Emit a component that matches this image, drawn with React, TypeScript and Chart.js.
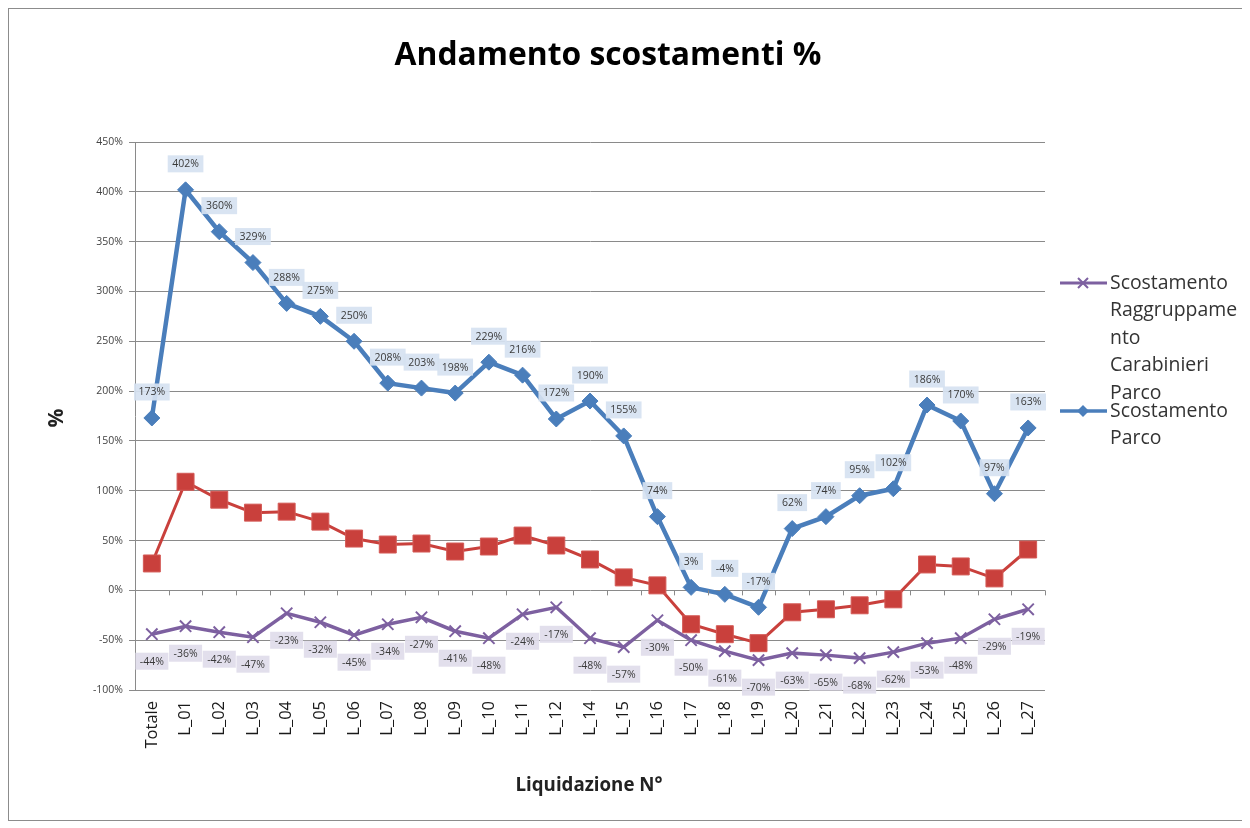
import React, { useEffect, useRef } from "react";
import { Chart, registerables } from "chart.js";

Chart.register(...registerables);

const categories = [
  "Totale", "L_01", "L_02", "L_03", "L_04", "L_05", "L_06", "L_07", "L_08", "L_09",
  "L_10", "L_11", "L_12", "L_14", "L_15", "L_16", "L_17", "L_18", "L_19", "L_20",
  "L_21", "L_22", "L_23", "L_24", "L_25", "L_26", "L_27",
];

const scostamentoParco = [
  173, 402, 360, 329, 288, 275, 250, 208, 203, 198, 229, 216, 172, 190, 155, 74,
  3, -4, -17, 62, 74, 95, 102, 186, 170, 97, 163,
];

const scostamentoRaggruppamento = [
  -44, -36, -42, -47, -23, -32, -45, -34, -27, -41, -48, -24, -17, -48, -57, -30,
  -50, -61, -70, -63, -65, -68, -62, -53, -48, -29, -19,
];

const terzaSerie = [
  27, 109, 91, 78, 79, 69, 52, 46, 47, 39, 44, 55, 45, 31, 13, 5,
  -34, -44, -53, -22, -19, -15, -9, 26, 24, 12, 41,
];

const yMin = -100;
const yMax = 450;
const yStep = 50;

const titleText = "Andamento scostamenti %";
const xTitleText = "Liquidazione N°";
const yTitleText = "%";
const legendRaggruppamento = ["Scostamento", "Raggruppame", "nto", "Carabinieri", "Parco"];
const legendParco = ["Scostamento", "Parco"];

const BLUE = "#4A7EBB";
const RED = "#C9403C";
const PURPLE = "#7D60A0";
const GRID = "#8a8a8a";
const FAMILY = "'Open Sans', 'Noto Sans', sans-serif";

function fitFont(ctx: CanvasRenderingContext2D, text: string, weight: string, target: number) {
  let size = 20;
  ctx.font = `${weight} ${size}px ${FAMILY}`;
  const w = ctx.measureText(text).width;
  size = (size * target) / w;
  ctx.font = `${weight} ${size}px ${FAMILY}`;
  return size;
}

const extrasPlugin = {
  id: "extras",
  afterDatasetsDraw(chart: any) {
    const ctx: CanvasRenderingContext2D = chart.ctx;
    const area = chart.chartArea;
    const yScale = chart.scales.y;
    // tick marks on 0% line
    const y0 = yScale.getPixelForValue(0);
    ctx.save();
    ctx.strokeStyle = GRID;
    ctx.lineWidth = 1;
    const n = categories.length;
    const step = (area.right - area.left) / n;
    for (let i = 0; i <= n; i++) {
      const x = Math.round(area.left + i * step) + 0.5;
      ctx.beginPath();
      ctx.moveTo(x, y0);
      ctx.lineTo(x, y0 + 5);
      ctx.stroke();
    }
    ctx.restore();

    // data labels
    const drawLabels = (dsIndex: number, values: number[], offset: number, bg: string) => {
      const meta = chart.getDatasetMeta(dsIndex);
      ctx.save();
      ctx.font = `10.5px ${FAMILY}`;
      ctx.textAlign = "center";
      ctx.textBaseline = "middle";
      meta.data.forEach((pt: any, i: number) => {
        const txt = `${values[i]}%`;
        const w = ctx.measureText(txt).width + 9;
        const h = 17;
        const cx = pt.x;
        const cy = pt.y + offset;
        ctx.fillStyle = bg;
        ctx.fillRect(cx - w / 2, cy - h / 2, w, h);
        ctx.fillStyle = "#3a3a3a";
        ctx.fillText(txt, cx, cy + 0.5);
      });
      ctx.restore();
    };
    drawLabels(0, scostamentoParco, -26, "rgba(214,226,241,0.92)");
    drawLabels(2, scostamentoRaggruppamento, 27, "rgba(224,220,234,0.92)");
  },
  afterDraw(chart: any) {
    const ctx: CanvasRenderingContext2D = chart.ctx;
    const W = chart.width;
    const H = chart.height;
    ctx.save();
    // outer border
    ctx.strokeStyle = "#8c8c8c";
    ctx.lineWidth = 1;
    ctx.strokeRect(0.5, 0.5, W - 1, H - 1);

    // title
    ctx.fillStyle = "#000";
    ctx.textAlign = "center";
    ctx.textBaseline = "middle";
    fitFont(ctx, titleText, "bold", 427);
    ctx.fillText(titleText, 600, 48);

    // x title
    fitFont(ctx, xTitleText, "bold", 147);
    ctx.fillStyle = "#222";
    ctx.fillText(xTitleText, 581, 778);

    // y title
    ctx.save();
    ctx.translate(49, 410);
    ctx.rotate(-Math.PI / 2);
    ctx.font = `bold 21px ${FAMILY}`;
    ctx.fillText(yTitleText, 0, 0);
    ctx.restore();

    // legend
    ctx.textAlign = "left";
    ctx.textBaseline = "middle";
    ctx.fillStyle = "#333";
    fitFont(ctx, "Scostamento", "normal", 118);
    const tx = 1102;
    const lineH = 27.5;
    legendRaggruppamento.forEach((t, i) => ctx.fillText(t, tx, 275 + i * lineH));
    legendParco.forEach((t, i) => ctx.fillText(t, tx, 403 + i * lineH));

    // legend markers
    ctx.lineWidth = 3;
    ctx.strokeStyle = PURPLE;
    ctx.beginPath();
    ctx.moveTo(1052, 275);
    ctx.lineTo(1099, 275);
    ctx.stroke();
    ctx.lineWidth = 2;
    const mx = 1075;
    ctx.beginPath();
    ctx.moveTo(mx - 5, 270);
    ctx.lineTo(mx + 5, 280);
    ctx.moveTo(mx + 5, 270);
    ctx.lineTo(mx - 5, 280);
    ctx.stroke();

    ctx.lineWidth = 3.5;
    ctx.strokeStyle = BLUE;
    ctx.beginPath();
    ctx.moveTo(1052, 403);
    ctx.lineTo(1099, 403);
    ctx.stroke();
    ctx.fillStyle = BLUE;
    ctx.beginPath();
    ctx.moveTo(mx - 6, 403);
    ctx.lineTo(mx, 397);
    ctx.lineTo(mx + 6, 403);
    ctx.lineTo(mx, 409);
    ctx.closePath();
    ctx.fill();
    ctx.restore();
  },
};

export default function App() {
  const canvasRef = useRef<HTMLCanvasElement | null>(null);

  useEffect(() => {
    if (!canvasRef.current) return;
    const chart = new Chart(canvasRef.current, {
      type: "line",
      data: {
        labels: categories,
        datasets: [
          {
            label: "Scostamento Parco",
            data: scostamentoParco,
            borderColor: BLUE,
            backgroundColor: BLUE,
            borderWidth: 4.5,
            pointStyle: "rectRot",
            pointRadius: 8,
            pointBorderWidth: 1,
            pointBackgroundColor: BLUE,
            pointBorderColor: BLUE,
            tension: 0,
          },
          {
            label: "Serie 3",
            data: terzaSerie,
            borderColor: RED,
            backgroundColor: RED,
            borderWidth: 3,
            pointStyle: "rect",
            pointRadius: 12,
            pointBorderWidth: 1,
            pointBackgroundColor: RED,
            pointBorderColor: "#d45a56",
            tension: 0,
          },
          {
            label: "Scostamento Raggruppamento Carabinieri Parco",
            data: scostamentoRaggruppamento,
            borderColor: PURPLE,
            backgroundColor: PURPLE,
            borderWidth: 3.5,
            pointStyle: "crossRot",
            pointRadius: 8,
            pointBorderWidth: 2,
            pointBorderColor: PURPLE,
            tension: 0,
          },
        ],
      },
      options: {
        animation: false,
        responsive: false,
        maintainAspectRatio: false,
        layout: { padding: { top: 134, right: 200, left: 0, bottom: 0 } },
        plugins: {
          legend: { display: false },
          title: { display: false },
          tooltip: { enabled: false },
        },
        scales: {
          x: {
            type: "category",
            offset: true,
            grid: { display: false },
            border: { display: false },
            ticks: {
              autoSkip: false,
              minRotation: 90,
              maxRotation: 90,
              padding: 3,
              color: "#1a1a1a",
              font: { family: FAMILY, size: 16.5 },
            },
            afterFit(scale: any) {
              scale.height = 131;
            },
          },
          y: {
            min: yMin,
            max: yMax,
            grid: {
              color: GRID,
              lineWidth: 1,
              drawTicks: true,
              tickLength: 6,
            },
            border: { display: true, color: GRID, width: 1 },
            ticks: {
              stepSize: yStep,
              padding: 6,
              color: "#444",
              font: { family: FAMILY, size: 10.5 },
              callback: (v: any) => `${v}%`,
            },
            afterFit(scale: any) {
              scale.width = 127;
            },
          },
        },
      },
      plugins: [extrasPlugin],
    });
    return () => chart.destroy();
  }, []);

  return (
    <div style={{ width: 1237, height: 813 }}>
      <canvas ref={canvasRef} width={1237} height={813} style={{ display: "block", width: 1237, height: 813 }} />
    </div>
  );
}
